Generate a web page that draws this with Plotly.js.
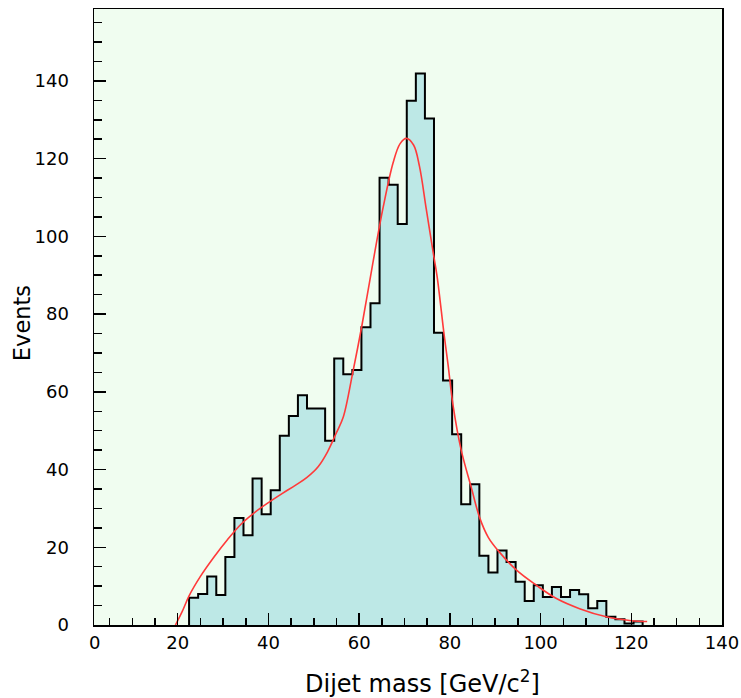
<!DOCTYPE html>
<html>
<head>
<meta charset="utf-8">
<script src="https://cdn.plot.ly/plotly-3.0.1.min.js"></script>
<style>html,body{margin:0;padding:0;background:#fff;}#chart{width:741px;height:698px;}</style>
</head>
<body>
<div id="chart"></div>
<script>
// Histogram: lower bin edges (GeV/c^2), bin width 2
const binLow = [22.5, 24.5, 26.5, 28.5, 30.5, 32.5, 34.5, 36.5, 38.5, 40.5,
                42.5, 44.5, 46.5, 48.5, 50.5, 52.5, 54.5, 56.5, 58.5, 60.5,
                62.5, 64.5, 66.5, 68.5, 70.5, 72.5, 74.5, 76.5, 78.5, 80.5,
                82.5, 84.5, 86.5, 88.5, 90.5, 92.5, 94.5, 96.5, 98.5, 100.5,
                102.5, 104.5, 106.5, 108.5, 110.5, 112.5, 114.5, 116.5, 118.5, 120.5];
const binWidth = 2;
const counts = [7.0, 8.0, 12.5, 7.7, 17.5, 27.5, 23.1, 37.7, 28.5, 34.7,
                48.7, 53.8, 59.1, 55.7, 55.7, 47.4, 68.6, 64.5, 65.6, 76.6,
                82.8, 115.1, 113.3, 103.2, 134.9, 141.9, 130.3, 75.2, 62.9, 49.1,
                31.1, 36.2, 17.8, 13.5, 19.2, 16.2, 11.1, 6.2, 10.2, 7.2,
                9.8, 7.2, 9.0, 7.9, 4.3, 6.2, 2.1, 1.5, 0.4, 0.9];

// Fit curve
const fitX = [19.5, 21, 22.5, 25, 28, 31, 34, 37, 40, 43, 46, 48.5, 51, 53, 55, 56.5,
              58.6, 60.6, 63, 65.3, 67.5, 69, 70.4, 72, 73.3, 74.8, 76.3, 77.2, 78.7,
              79.6, 80.7, 82.5, 84.7, 86.6, 88.5, 90.6, 94.7, 99.1, 103.5, 108.6, 114.5, 120, 123.5];
const fitY = [0, 3.5, 7.5, 12.5, 17.5, 22, 26, 29, 31.5, 33.8, 36, 38, 40.8, 44.5, 49.5, 53.5,
              65, 77, 93, 107.5, 119, 123.8, 125.2, 123.5, 118, 107, 96, 89.6, 75,
              67, 56.5, 45, 35.5, 27.5, 22.5, 19.2, 14.1, 10.2, 6.8, 4.2, 2.1, 1.1, 0.9];

const xTickVals = [20, 40, 60, 80, 100, 120, 140];
const yTickVals = [0, 20, 40, 60, 80, 100, 120, 140];

// build step outline from bins
const stepX = [binLow[0]];
const stepY = [0];
for (let i = 0; i < binLow.length; i++) { stepX.push(binLow[i]); stepY.push(counts[i]); }
stepX.push(binLow[binLow.length - 1] + binWidth); stepY.push(0);

const FONT = 'DejaVu Sans, Liberation Sans, Arial, sans-serif';

const traces = [
  {x: stepX, y: stepY, type: 'scatter', mode: 'lines',
   line: {shape: 'hv', color: '#000', width: 2},
   fill: 'tozeroy', fillcolor: '#bde8e6', hoverinfo: 'skip', showlegend: false},
  {x: fitX, y: fitY, type: 'scatter', mode: 'lines',
   line: {shape: 'spline', smoothing: 1, color: '#ff3a3a', width: 1.6},
   hoverinfo: 'skip', showlegend: false}
];

const layout = {
  width: 741, height: 698,
  margin: {l: 94, r: 19, t: 9, b: 73, pad: 0},
  paper_bgcolor: '#ffffff',
  plot_bgcolor: '#f0fdf0',
  showlegend: false,
  font: {family: FONT, color: '#000'},
  xaxis: {
    range: [1.54, 140], showline: true, mirror: true, linecolor: '#000', linewidth: 1.5,
    ticks: 'inside', ticklen: 12, tickwidth: 1.5, tickcolor: '#000',
    tickvals: xTickVals, showgrid: false, zeroline: false,
    tickfont: {family: FONT, size: 18, color: '#000'}, ticklabelstandoff: 1,
    minor: {dtick: 5, tick0: 0, ticks: 'inside', ticklen: 7, tickwidth: 1.5, tickcolor: '#000', showgrid: false}
  },
  yaxis: {
    range: [0, 158.5], showline: true, mirror: true, linecolor: '#000', linewidth: 1.5,
    ticks: 'inside', ticklen: 12, tickwidth: 1.5, tickcolor: '#000',
    tickvals: yTickVals, showgrid: false, zeroline: false,
    tickfont: {family: FONT, size: 18, color: '#000'}, ticklabelstandoff: 20,
    minor: {dtick: 5, tick0: 0, ticks: 'inside', ticklen: 8, tickwidth: 1.5, tickcolor: '#000', showgrid: false}
  },
  annotations: [
    {text: '0', xref: 'x', x: 1.54, yref: 'paper', y: 0, yanchor: 'middle', xanchor: 'center',
     yshift: -17, showarrow: false, font: {family: FONT, size: 18, color: '#000'}},
    {text: 'Dijet mass [GeV/c<sup>2</sup>]', xref: 'paper', x: 0.5223, yref: 'paper', y: -0.092,
     xanchor: 'center', yanchor: 'middle', showarrow: false, font: {family: FONT, size: 24, color: '#000'}},
    {text: 'Events', xref: 'paper', x: -0.1147, yref: 'paper', y: 0.49, textangle: -90,
     xanchor: 'center', yanchor: 'middle', showarrow: false, font: {family: FONT, size: 22.5, color: '#000'}}
  ]
};

Plotly.newPlot('chart', traces, layout, {staticPlot: true, displayModeBar: false});
</script>
</body>
</html>
